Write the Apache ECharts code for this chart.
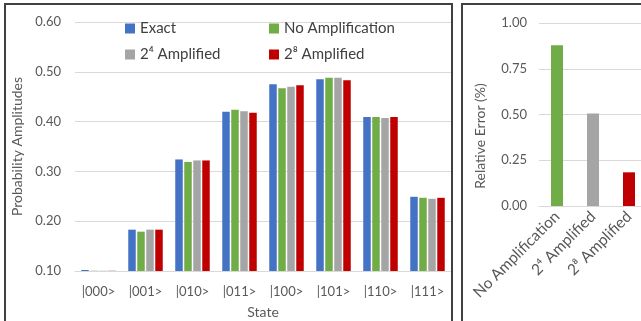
<!DOCTYPE html>
<html>
<head>
<meta charset="utf-8">
<script src="https://cdn.jsdelivr.net/npm/echarts@6/dist/echarts.min.js"></script>
<style>
html,body{margin:0;padding:0;background:#fff;}
#c{width:641px;height:321px;}
</style>
</head>
<body>
<div id="c"></div>
<script>
var states = ['|000>', '|001>', '|010>', '|011>', '|100>', '|101>', '|110>', '|111>'];
var exact = [0.102, 0.183, 0.324, 0.420, 0.475, 0.485, 0.409, 0.249];
var noAmp = [0.1005, 0.179, 0.319, 0.424, 0.467, 0.488, 0.409, 0.247];
var amp4 = [0.1005, 0.183, 0.322, 0.421, 0.470, 0.488, 0.407, 0.245];
var amp8 = [0.1004, 0.183, 0.322, 0.418, 0.473, 0.483, 0.409, 0.247];
var seriesNames = ['Exact', 'No Amplification', '2\u2074 Amplified', '2\u2078 Amplified'];
var errCategories = ['No Amplification', '2\u2074 Amplified', '2\u2078 Amplified'];
var errValues = [0.878, 0.506, 0.184];
var leftTicks = [0.1, 0.2, 0.3, 0.4, 0.5, 0.6];
var rightTicks = [0, 0.25, 0.5, 0.75, 1.0];

var colors = ['#4472C4', '#70AD47', '#A5A5A5', '#C00000'];
var FONT = 'Lato';
var txt = '#595959';

var chart = echarts.init(document.getElementById('c'), null, {renderer: 'canvas'});
var leftVals = [exact, noAmp, amp4, amp8];

var series = leftVals.map(function (v, i) {
  return {
    name: seriesNames[i], type: 'bar', xAxisIndex: 0, yAxisIndex: 0,
    data: v, barWidth: 7.5, barGap: '20%',
    itemStyle: {color: colors[i]}, animation: false
  };
});
series.push({
  name: 'Relative Error', type: 'bar', xAxisIndex: 1, yAxisIndex: 1,
  barWidth: 12, animation: false,
  data: errValues.map(function (v, i) { return {value: v, itemStyle: {color: colors[i + 1]}}; })
});

var option = {
  backgroundColor: '#fff',
  textStyle: {fontFamily: FONT},
  grid: [
    {left: 75, right: 190, top: 22, bottom: 50, outerBoundsMode: 'none', containLabel: false},
    {left: 539, right: -6, top: 23, bottom: 115, outerBoundsMode: 'none', containLabel: false}
  ],
  legend: [
    {data: [seriesNames[0], seriesNames[2]], orient: 'vertical', left: 120, top: 16,
     itemWidth: 10, itemHeight: 10, itemGap: 11, icon: 'rect',
     textStyle: {fontFamily: FONT, fontSize: 15, color: '#404040'}},
    {data: [seriesNames[1], seriesNames[3]], orient: 'vertical', left: 264, top: 16,
     itemWidth: 10, itemHeight: 10, itemGap: 11, icon: 'rect',
     textStyle: {fontFamily: FONT, fontSize: 15, color: '#404040'}}
  ],
  xAxis: [
    {type: 'category', gridIndex: 0, data: states,
     axisLine: {show: true, lineStyle: {color: '#D9D9D9'}}, axisTick: {show: false},
     axisLabel: {color: txt, fontSize: 13, fontFamily: FONT, margin: 14, interval: 0},
     name: 'State', nameLocation: 'middle', nameGap: 34,
     nameTextStyle: {color: txt, fontSize: 14, fontFamily: FONT}},
    {type: 'category', gridIndex: 1, data: errCategories,
     axisLine: {show: true, lineStyle: {color: '#D9D9D9'}}, axisTick: {show: false},
     axisLabel: {color: txt, fontSize: 15.5, fontFamily: FONT, rotate: 45, margin: 8, interval: 0}}
  ],
  yAxis: [
    {type: 'value', gridIndex: 0, min: 0.1, max: 0.6, interval: 0.1,
     axisLine: {show: false}, axisTick: {show: false},
     splitLine: {lineStyle: {color: '#D9D9D9'}},
     axisLabel: {color: txt, fontSize: 13, fontFamily: FONT, margin: 14,
       formatter: function (v) { return v.toFixed(2); }},
     name: 'Probability Amplitudes', nameLocation: 'middle', nameGap: 48,
     nameTextStyle: {color: txt, fontSize: 14, fontFamily: FONT}},
    {type: 'value', gridIndex: 1, min: 0, max: 1, interval: 0.25,
     axisLine: {show: false}, axisTick: {show: false},
     splitLine: {lineStyle: {color: '#D9D9D9'}},
     axisLabel: {color: txt, fontSize: 13, fontFamily: FONT, margin: 12,
       formatter: function (v) { return v.toFixed(2); }}}
  ],
  graphic: [
    {type: 'text', x: 480, y: 136, rotation: Math.PI / 2,
     style: {text: 'Relative Error (%)', fill: txt, font: '14px Lato',
       textAlign: 'center', textVerticalAlign: 'middle'}, silent: true},
    {type: 'rect', shape: {x: 5, y: 4, width: 447, height: 340},
     style: {fill: 'none', stroke: '#404040', lineWidth: 2}, silent: true, z: 100},
    {type: 'rect', shape: {x: 462, y: 4, width: 220, height: 340},
     style: {fill: 'none', stroke: '#404040', lineWidth: 2}, silent: true, z: 100}
  ],
  series: series
};
chart.setOption(option);
</script>
</body>
</html>
